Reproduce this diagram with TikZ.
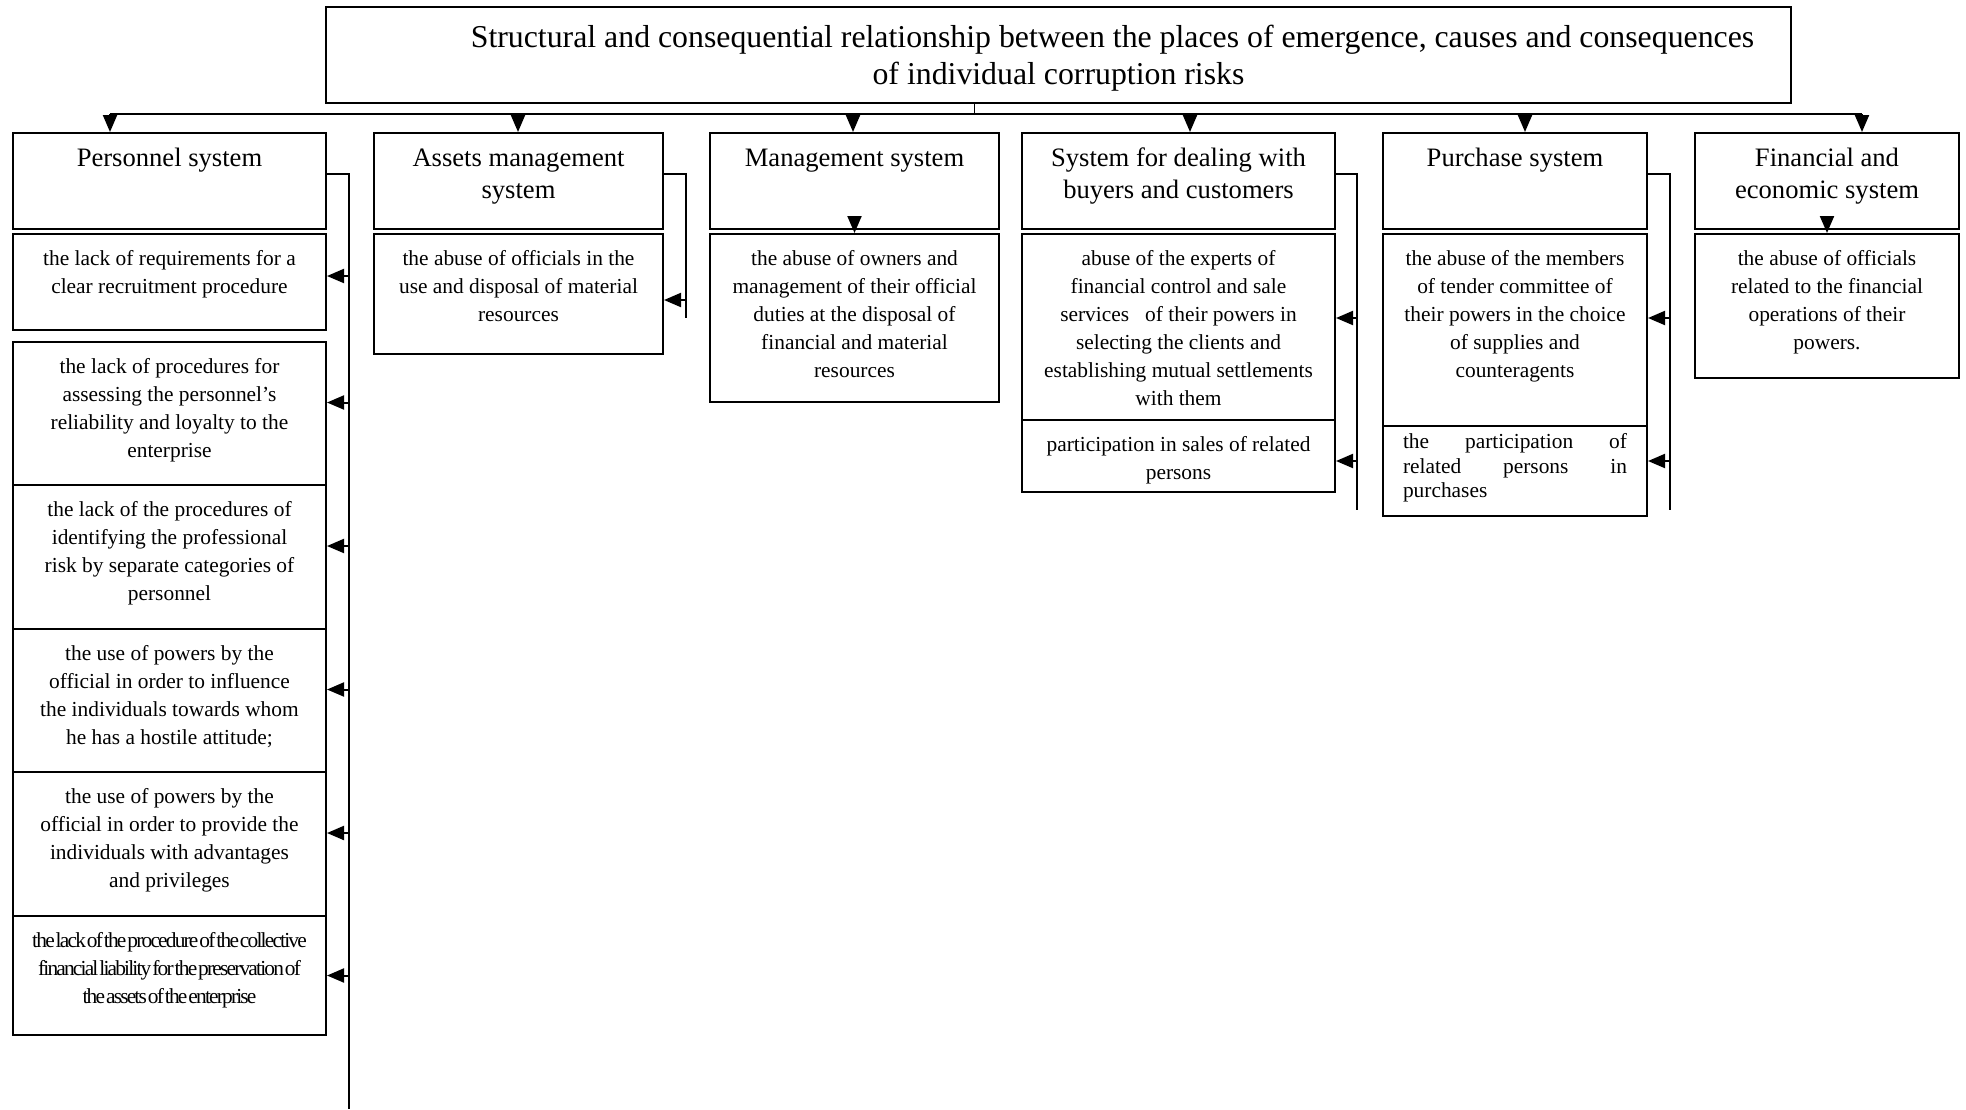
\documentclass[tikz,border=0pt]{standalone}
\usepackage{fontspec}
\setmainfont{Liberation Serif}
\usetikzlibrary{arrows.meta}

\newcommand{\cell}[4][11.5]{\parbox[c][#3pt][t]{#2pt}{\centering\vspace*{#1pt}\strut #4}}
\newcommand{\headfont}{\fontsize{26.6}{32}\selectfont}
\newcommand{\textfnt}{\fontsize{21.4}{28}\selectfont}

\begin{document}
\begin{tikzpicture}[x=1pt, y=-1pt,
	box/.style={draw=black, line width=2pt, inner sep=0pt, anchor=north west, font=\textfnt},
	head/.style={box, font=\headfont},
	line/.style={draw=black, line width=2pt},
	arr/.style={line, -{Triangle[length=17pt,width=14pt]}}]
\useasboundingbox (0,0) rectangle (1966,1109);

\node[box, font=\fontsize{31.8}{36.5}\selectfont] (title) at (325,6) {\cell[15]{1465}{96}{\hspace*{108pt}Structural and consequential relationship between the places of emergence, causes and consequences\\ of individual corruption risks}};

\node[head] (pers) at (12,132) {\cell{313}{96}{Personnel system}};
\node[head] (asset) at (373,132) {\cell{289}{96}{Assets management\\ system}};
\node[head] (mgmt) at (709,132) {\cell{289}{96}{Management system}};
\node[head] (buyer) at (1021,132) {\cell{313}{96}{System for dealing with\\ buyers and customers}};
\node[head] (purch) at (1382,132) {\cell{264}{96}{Purchase system}};
\node[head] (fin) at (1694,132) {\cell{264}{96}{Financial and\\ economic system}};

\node[box] (pers1) at (12,233) {\cell{313}{96}{the lack of requirements for a\\ clear recruitment procedure}};
\node[box] (pers2) at (12,341) {\cell{313}{143}{the lack of procedures for\\ assessing the personnel’s\\ reliability and loyalty to the\\ enterprise}};
\node[box] (pers3) at (12,484) {\cell{313}{144}{the lack of the procedures of\\ identifying the professional\\ risk by separate categories of\\ personnel}};
\node[box] (pers4) at (12,628) {\cell{313}{143}{the use of powers by the\\ official in order to influence\\ the individuals towards whom\\ he has a hostile attitude;}};
\node[box] (pers5) at (12,771) {\cell{313}{144}{the use of powers by the\\ official in order to provide the\\ individuals with advantages\\ and privileges}};
\node[box] (pers6) at (12,915) {\cell{313}{119}{\addfontfeature{LetterSpace=-8.5}\spaceskip=1pt the lack of the procedure of the collective\\ financial liability for the preservation of\\ the assets of the enterprise}};

\node[box] (asset1) at (373,233) {\cell{289}{120}{the abuse of officials in the\\ use and disposal of material\\ resources}};
\node[box] (mgmt1) at (709,233) {\cell{289}{168}{the abuse of owners and\\ management of their official\\ duties at the disposal of\\ financial and material\\ resources}};
\node[box] (buyer1) at (1021,233) {\cell{313}{186}{abuse of the experts of\\ financial control and sale\\ services\ \ \ of their powers in\\ selecting the clients and\\ establishing mutual settlements\\ with them}};
\node[box] (buyer2) at (1021,419) {\cell{313}{72}{participation in sales of related\\ persons}};
\node[box] (purch1) at (1382,233) {\cell{264}{192}{the abuse of the members\\ of tender committee of\\ their powers in the choice\\ of supplies and\\ counteragents}};
\node[box] (purch2) at (1382,425) {\parbox[c][90pt][t]{264pt}{\centering\vspace*{5.5pt}\fontsize{21.4}{24.5}\selectfont\parbox[t]{224pt}{\strut the\hfill participation\hfill of\\ related\hfill persons\hfill in\\ purchases}}};
\node[box] (fin1) at (1694,233) {\cell{264}{144}{the abuse of officials\\ related to the financial\\ operations of their\\ powers.}};

\coordinate (b1) at (110,114);
\coordinate (b2) at (518,114);
\coordinate (b3) at (853,114);
\coordinate (b4) at (1190,114);
\coordinate (b5) at (1525,114);
\coordinate (b6) at (1862,114);
\coordinate (ps) at (349,1109);
\coordinate (as) at (686,318);
\coordinate (bs) at (1357,510);
\coordinate (us) at (1670,510);

\draw[line width=1pt] ([xshift=-84]title.south) -- ([xshift=-84]title.south |- b1);
\draw[line] (b1) -- (b6);
\draw[arr] (b1) -- (b1 |- pers.north);
\draw[arr] (b2) -- (b2 |- asset.north);
\draw[arr] (b3) -- (b3 |- mgmt.north);
\draw[arr] (b4) -- (b4 |- buyer.north);
\draw[arr] (b5) -- (b5 |- purch.north);
\draw[arr] (b6) -- (b6 |- fin.north);

\draw[line] ([yshift=7]pers.east) -| (ps);
\draw[arr] ([yshift=6]pers1.east -| ps) -- ([yshift=6]pers1.east);
\draw[arr] ([yshift=11]pers2.east -| ps) -- ([yshift=11]pers2.east);
\draw[arr] ([yshift=11]pers3.east -| ps) -- ([yshift=11]pers3.east);
\draw[arr] ([yshift=11]pers4.east -| ps) -- ([yshift=11]pers4.east);
\draw[arr] ([yshift=11]pers5.east -| ps) -- ([yshift=11]pers5.east);
\draw[arr] (pers6.east -| ps) -- (pers6.east);

\draw[line] ([yshift=7]asset.east) -| (as);
\draw[arr] ([yshift=-6]asset1.east -| as) -- ([yshift=-6]asset1.east);

\draw[arr] ([yshift=13]mgmt.south) -- (mgmt1.north);

\draw[line] ([yshift=7]buyer.east) -| (bs);
\draw[arr] ([yshift=9]buyer1.east -| bs) -- ([yshift=9]buyer1.east);
\draw[arr] ([yshift=-5]buyer2.east -| bs) -- ([yshift=-5]buyer2.east);

\draw[line] ([yshift=7]purch.east) -| (us);
\draw[arr] ([yshift=12]purch1.east -| us) -- ([yshift=12]purch1.east);
\draw[arr] ([yshift=10]purch2.east -| us) -- ([yshift=10]purch2.east);

\draw[arr] ([yshift=13]fin.south) -- (fin1.north);
\end{tikzpicture}
\end{document}
